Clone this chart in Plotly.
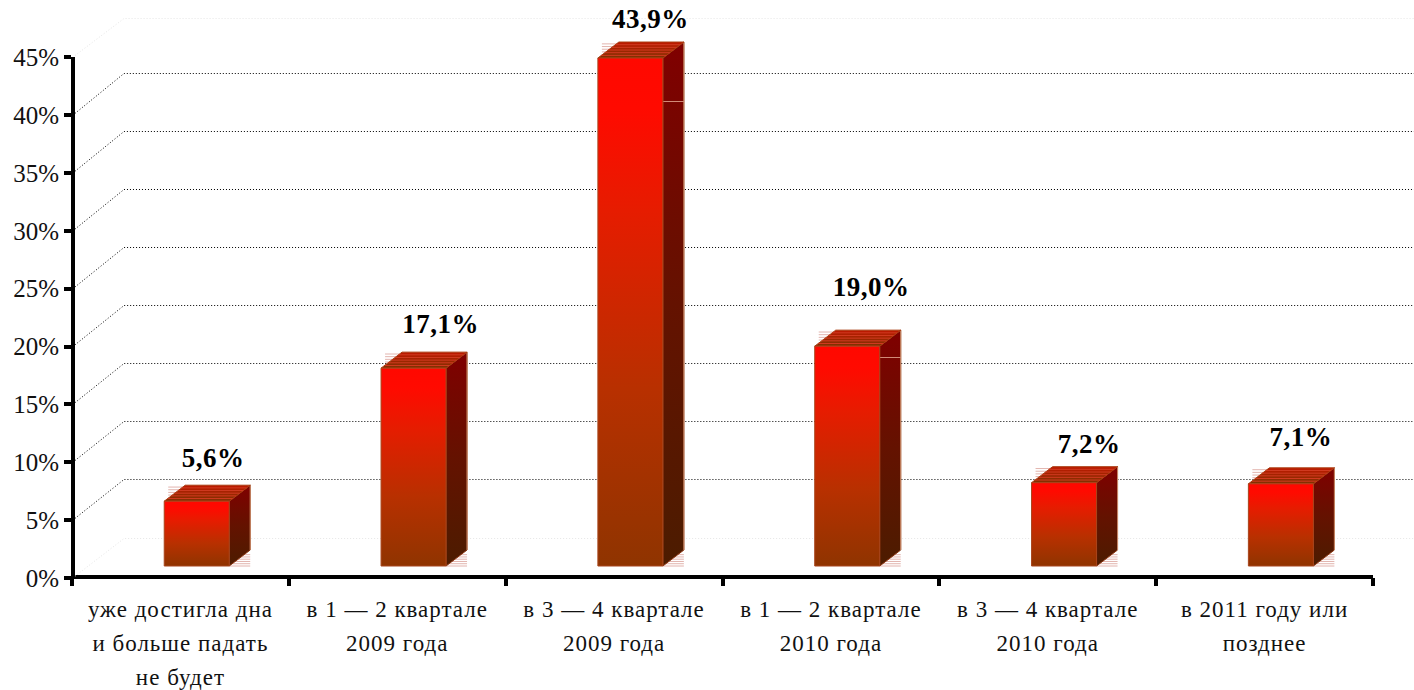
import plotly.graph_objects as go

# ---- data -------------------------------------------------------------
categories = [
    "уже достигла дна<br>и больше падать<br>не будет",
    "в 1 — 2 квартале<br>2009 года",
    "в 3 — 4 квартале<br>2009 года",
    "в 1 — 2 квартале<br>2010 года",
    "в 3 — 4 квартале<br>2010 года",
    "в 2011 году или<br>позднее",
]
values = [5.6, 17.1, 43.9, 19.0, 7.2, 7.1]
value_labels = ["5,6%", "17,1%", "43,9%", "19,0%", "7,2%", "7,1%"]
y_ticks = [0, 5, 10, 15, 20, 25, 30, 35, 40, 45]

# ---- layout constants (pixels) -----------------------------------------
W, H = 1414, 690
X0, X1 = 72.0, 1373.0
Y0, Y45 = 578.0, 57.3
CAT_W = (X1 - X0) / len(values)
UNIT = (Y0 - Y45) / 45.0
BAR_W = 65.0 / CAT_W
BAR_SHIFT = 16.3 / CAT_W
BASE = 12.0 / UNIT
DX = 21.0 / CAT_W
DY = 16.0 / UNIT
label_dx = [16.5, 27, 20, 24, 25, 20]
label_cy = [460, 326, 21, 289, 446, 439]
glint_rows = {2: 101, 3: 357}
FONT = "Liberation Serif"

def ux(px):
    return (px - X0) / CAT_W
def uy(py):
    return (Y0 - py) / UNIT

fig = go.Figure()
# primary axes carry the real axis lines and ticks
fig.add_trace(go.Scatter(x=[i + 0.5 for i in range(6)], y=values, mode="none",
                         xaxis="x", yaxis="y", showlegend=False, hoverinfo="skip"))

def add(**kw):
    fig.add_trace(go.Scatter(xaxis="x2", yaxis="y2", showlegend=False, hoverinfo="skip", **kw))

# back-wall grid
for t in y_ticks:
    faint = t in (0, 45)
    wall = int(538 - t / 5 * 58.09) + 0.5 if t < 45 else 18.5
    add(x=[ux(75), ux(124), ux(127), ux(1414)],
        y=[t + 0.15, uy(wall), uy(wall), uy(wall)],
        mode="lines",
        line=dict(color="#e6e6e6" if faint else "#000000", width=1, dash="1px 2px"))

GRAD_FRONT = [[0, "#8f3400"], [0.35, "#b83000"], [0.7, "#e61c00"], [0.9, "#ff0a00"], [1, "#ff0800"]]
GRAD_SIDE = [[0, "#4c1c00"], [0.5, "#641200"], [1, "#800000"]]
GRAD_TOP = [[0, "#7d3200"], [1, "#c01800"]]

for i, v in enumerate(values):
    left = i + 0.5 + BAR_SHIFT - BAR_W / 2
    right = left + BAR_W
    bot = BASE
    top = BASE + v
    # stray pale scan lines
    xs, ys = [], []
    for k in range(6):
        yy = top + DY * (k + 0.3) / 6
        xs += [left + 4 / CAT_W, right + DX, None]
        ys += [yy, yy, None]
        yb = bot + DY * k / 6 * 0.85
        xs += [right, right + DX, None]
        ys += [yb, yb, None]
    add(x=xs, y=ys, mode="lines", line=dict(color="#e2b4ae", width=1))
    # side face
    add(x=[right, right + DX, right + DX, right, right],
        y=[bot, bot + DY, top + DY, top, bot],
        mode="lines", fill="toself",
        fillgradient=dict(type="vertical", colorscale=GRAD_SIDE),
        line=dict(color="#8a3510", width=1))
    add(x=[right + DX, right + DX], y=[bot + DY, top + DY], mode="lines",
        line=dict(color="#c98a68", width=1))
    if i in glint_rows:
        add(x=[right, right + DX], y=[uy(glint_rows[i] + 0.5)] * 2, mode="lines",
            line=dict(color="#d28a78", width=1))
    # top face
    add(x=[left, left + DX, right + DX, right, left],
        y=[top, top + DY, top + DY, top, top],
        mode="lines", fill="toself",
        fillgradient=dict(type="vertical", colorscale=GRAD_TOP),
        line=dict(color="#a83c10", width=1))
    # stripes on the top face
    xs, ys = [], []
    for k in range(1, 6):
        f = k / 6
        yy = top + DY * f
        xs += [left + DX * f, right + DX * f, None]
        ys += [yy, yy, None]
    add(x=xs, y=ys, mode="lines", line=dict(color="#d03a20", width=1))
    # front face
    add(x=[left, right, right, left, left],
        y=[bot, bot, top, top, bot],
        mode="lines", fill="toself",
        fillgradient=dict(type="vertical", colorscale=GRAD_FRONT),
        line=dict(color="#a8451c", width=1))

# value labels
add(x=[i + 0.5 + BAR_SHIFT + label_dx[i] / CAT_W for i in range(6)],
    y=[uy(c) for c in label_cy],
    mode="text", text=value_labels, textposition="middle center",
    textfont=dict(family=FONT, size=27, color="#000000", weight="bold"))

# category labels (line by line for the wide line spacing)
for i, c in enumerate(categories):
    for j, line in enumerate(c.split("<br>")):
        add(x=[i + 0.5], y=[uy(611 + 34 * j)], mode="text", text=[line],
            textposition="middle center",
            textfont=dict(family=FONT, size=23, color="#111111"))

fig.update_layout(
    width=W, height=H, margin=dict(l=0, r=0, t=0, b=0, autoexpand=False),
    paper_bgcolor="white", plot_bgcolor="rgba(0,0,0,0)", showlegend=False,
    xaxis=dict(domain=[X0 / W, X1 / W], range=[0, 6], tickmode="array",
               tickvals=list(range(7)), showticklabels=False, ticks="outside",
               ticklen=8, tickwidth=3.5, tickcolor="#000000", showgrid=False, zeroline=False,
               showline=True, linecolor="#000000", linewidth=3.5,
               anchor="free", position=(H - 576.5) / H),
    yaxis=dict(domain=[(H - Y0) / H, (H - Y45) / H], range=[0, 45], tickmode="array",
               tickvals=y_ticks, ticktext=[f"{t}%" for t in y_ticks],
               tickfont=dict(family=FONT, size=25, color="#111111"), ticks="outside",
               ticklen=7, tickwidth=3.5, tickcolor="#000000", showgrid=False, zeroline=False,
               showline=True, linecolor="#000000", linewidth=3.5,
               anchor="free", position=(X0 + 0.75) / W),
    xaxis2=dict(domain=[0, 1], range=[ux(0), ux(W)], visible=False, anchor="y2",
                fixedrange=True),
    yaxis2=dict(domain=[0, 1], range=[uy(H), uy(0)], visible=False, anchor="x2",
                fixedrange=True),
)

post = """
document.body.style.margin='0';
document.querySelectorAll('.textpoint text').forEach(function(t){
  var s = parseFloat(t.style.fontSize);
  t.style.letterSpacing = s >= 25 ? '0.5px' : '1px';
});
"""
fig.write_html("out.html", post_script=post, config=dict(displayModeBar=False))
